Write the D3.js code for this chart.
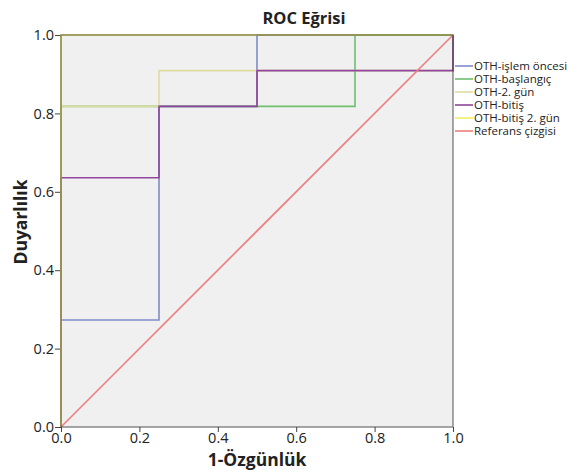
<!DOCTYPE html>
<html>
<head>
<meta charset="utf-8">
<script src="https://cdn.jsdelivr.net/npm/d3@7"></script>
<style>
  body { margin: 0; background: #fff; }
  text { font-family: "Open Sans", sans-serif; }
</style>
</head>
<body>
<script>
// ROC data: x = 1-Özgünlük, y = Duyarlılık
var islemOncesi = [[0,0],[0,0.273],[0.25,0.273],[0.25,0.818],[0.5,0.818],[0.5,1],[1,1]];
var baslangic   = [[0,0],[0,0.818],[0.75,0.818],[0.75,1],[1,1]];
var gun2        = [[0,0],[0,0.818],[0.25,0.818],[0.25,0.909],[1,0.909],[1,1]];
var bitis       = [[0,0],[0,0.636],[0.25,0.636],[0.25,0.818],[0.5,0.818],[0.5,0.909],[1,0.909],[1,1]];
var bitis2gun   = [[0,0],[0,1],[1,1]];
var referans    = [[0,0],[1,1]];

var seriesNames = ["OTH-işlem öncesi","OTH-başlangıç","OTH-2. gün","OTH-bitiş","OTH-bitiş 2. gün","Referans çizgisi"];
var seriesColors = ["#7f8bc8","#6fbf6f","#dcdca0","#8f469c","#f2ee60","#ee7d7d"];
var seriesData = [islemOncesi, baslangic, gun2, bitis, bitis2gun, referans];
var ticks = [0, 0.2, 0.4, 0.6, 0.8, 1.0];

var W = 567, H = 473;
var plotL = 61, plotR = 453, plotT = 35, plotB = 427;

var svg = d3.select('body').append('svg')
  .attr('width', W)
  .attr('height', H);

var x = d3.scaleLinear().domain([0,1]).range([plotL, plotR]);
var y = d3.scaleLinear().domain([0,1]).range([plotB, plotT]);

// plot background
svg.append('rect')
  .attr('x', plotL).attr('y', plotT)
  .attr('width', plotR-plotL).attr('height', plotB-plotT)
  .attr('fill', '#f0f0f0');

// axes
var xAxis = d3.axisBottom(x).tickValues(ticks).tickFormat(d3.format('.1f')).tickSize(5).tickPadding(1);
var yAxis = d3.axisLeft(y).tickValues(ticks).tickFormat(d3.format('.1f')).tickSize(6).tickPadding(1);

svg.append('g')
  .attr('transform', 'translate(0,' + plotB + ')')
  .call(xAxis)
  .call(g => g.select('.domain').remove())
  .call(g => g.selectAll('line').attr('stroke', '#444'))
  .call(g => g.selectAll('text').attr('font-size', 14.5).attr('fill', '#222').attr('font-family', '"Open Sans", sans-serif'));

svg.append('g')
  .attr('transform', 'translate(' + plotL + ',0)')
  .call(yAxis)
  .call(g => g.select('.domain').remove())
  .call(g => g.selectAll('line').attr('stroke', '#444'))
  .call(g => g.selectAll('text').attr('font-size', 14.5).attr('fill', '#222').attr('font-family', '"Open Sans", sans-serif'));

// lines
var line = d3.line().x(d => x(d[0])).y(d => y(d[1]));

svg.append('g').selectAll('path')
  .data(seriesData).enter()
  .append('path')
  .attr('d', d => line(d))
  .attr('fill', 'none')
  .attr('stroke', (d, i) => seriesColors[i])
  .attr('stroke-width', 1.6);

// frame on top, semi transparent so the yellow edge reads olive
svg.append('rect')
  .attr('x', plotL).attr('y', plotT)
  .attr('width', plotR-plotL).attr('height', plotB-plotT)
  .attr('fill', 'none')
  .attr('stroke', '#3a3a3a')
  .attr('stroke-opacity', 0.55)
  .attr('stroke-width', 1.6);

// legend
var legend = svg.append('g').attr('transform', 'translate(455,66)');
var items = legend.selectAll('g').data(seriesNames).enter()
  .append('g')
  .attr('transform', (d, i) => 'translate(0,' + (i*13) + ')');
items.append('line')
  .attr('x1', 0).attr('x2', 18)
  .attr('stroke', (d, i) => seriesColors[i])
  .attr('stroke-width', 1.6);
items.append('text')
  .attr('x', 19).attr('y', 4)
  .attr('font-size', 11.5)
  .attr('fill', '#222')
  .text(d => d);

// titles
svg.append('text')
  .attr('x', 304).attr('y', 24)
  .attr('text-anchor', 'middle')
  .attr('font-size', 16.5).attr('font-weight', 'bold')
  .attr('fill', '#222')
  .text('ROC Eğrisi');

svg.append('text')
  .attr('x', (plotL+plotR)/2).attr('y', 466)
  .attr('text-anchor', 'middle')
  .attr('font-size', 17.5).attr('font-weight', 'bold')
  .attr('fill', '#222')
  .text('1-Özgünlük');

svg.append('text')
  .attr('transform', 'translate(27,' + 222 + ') rotate(-90)')
  .attr('text-anchor', 'middle')
  .attr('font-size', 17.5).attr('font-weight', 'bold')
  .attr('fill', '#222')
  .text('Duyarlılık');
</script>
</body>
</html>
